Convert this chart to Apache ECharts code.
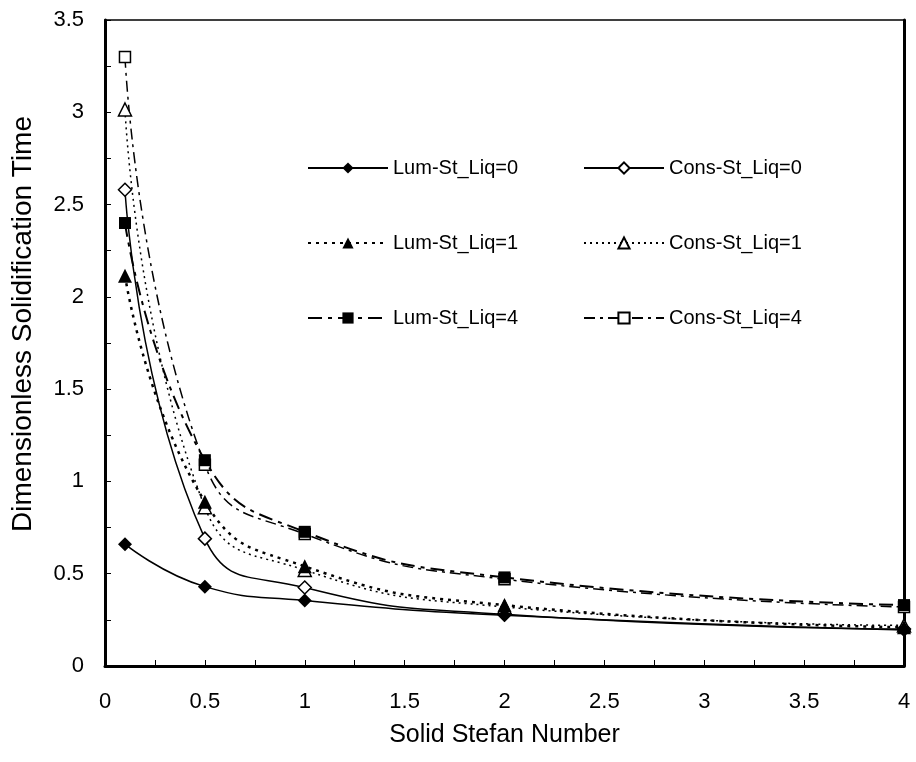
<!DOCTYPE html>
<html>
<head>
<meta charset="utf-8">
<script src="https://cdn.jsdelivr.net/npm/echarts@6/dist/echarts.min.js"></script>
<style>
html,body{margin:0;padding:0;background:#fff;}
#chart{width:916px;height:762px;}
</style>
</head>
<body>
<div id="chart"></div>
<script>
// Solid Stefan number values (x)
const stefan = [0.1, 0.5, 1, 2, 4];
// Dimensionless solidification time for each series
const lumLiq0 = [0.66, 0.43, 0.355, 0.275, 0.195];
const consLiq0 = [2.58, 0.69, 0.425, 0.28, 0.2];
const lumLiq1 = [2.115, 0.89, 0.54, 0.33, 0.21];
const consLiq1 = [3.015, 0.86, 0.52, 0.32, 0.22];
const lumLiq4 = [2.40, 1.115, 0.727, 0.48, 0.33];
const consLiq4 = [3.30, 1.09, 0.715, 0.47, 0.32];
const seriesNames = ['Lum-St_Liq=0', 'Cons-St_Liq=0', 'Lum-St_Liq=1', 'Cons-St_Liq=1', 'Lum-St_Liq=4', 'Cons-St_Liq=4'];
const xTitle = 'Solid Stefan Number';
const yTitle = 'Dimensionless Solidification Time';

const FONT = 'Liberation Sans, Arial, sans-serif';
const pts = arr => arr.map((v, i) => [stefan[i], v]);

function mk(name, data, symbol, size, filled, lineType, lineWidth) {
  return {
    name: name, type: 'line', data: pts(data), smooth: 0.5,
    symbol: symbol, symbolSize: size,
    itemStyle: filled ? {color: '#000', borderColor: '#000', borderWidth: 0}
                      : {color: '#fff', borderColor: '#000', borderWidth: 1.5},
    lineStyle: {color: '#000', width: lineWidth, type: lineType},
    emphasis: {disabled: true},
    z: filled ? 3 : 2
  };
}
const halfStep = v => (Math.abs(v * 2 - Math.round(v * 2)) < 1e-9 ? String(v) : '');

const chart = echarts.init(document.getElementById('chart'), null, {renderer: 'canvas'});
const legendCommon = {
  orient: 'vertical', itemWidth: 80, itemHeight: 14, itemGap: 55,
  textStyle: {fontFamily: FONT, fontSize: 20, color: '#000'},
  top: 153, selectedMode: false
};
chart.setOption({
  animation: false,
  backgroundColor: '#fff',
  grid: {left: 105, right: 12, top: 20, bottom: 96, show: true, borderColor: '#000', borderWidth: 1.5},
  legend: [
    Object.assign({}, legendCommon, {left: 302, data: [seriesNames[0], seriesNames[2], seriesNames[4]]}),
    Object.assign({}, legendCommon, {left: 578, data: [seriesNames[1], seriesNames[3], seriesNames[5]]})
  ],
  graphic: [{
    type: 'text', x: 23, y: 324, rotation: Math.PI / 2,
    style: {text: yTitle, fontFamily: FONT, fontSize: 28, fill: '#000', align: 'center', verticalAlign: 'middle'}
  }],
  xAxis: {
    type: 'value', min: 0, max: 4, interval: 0.25,
    name: xTitle, nameLocation: 'middle', nameGap: 57,
    nameTextStyle: {fontFamily: FONT, fontSize: 25, color: '#000'},
    axisLine: {show: true, onZero: false, lineStyle: {color: '#000', width: 3}},
    axisTick: {show: true, inside: true, length: 6, lineStyle: {color: '#000', width: 1}},
    axisLabel: {fontFamily: FONT, fontSize: 22, color: '#000', margin: 25, formatter: halfStep},
    splitLine: {show: false}
  },
  yAxis: [{
    type: 'value', min: 0, max: 3.5, interval: 0.25,
    axisLine: {show: true, onZero: false, lineStyle: {color: '#000', width: 3}},
    axisTick: {show: true, inside: true, length: 6, lineStyle: {color: '#000', width: 1}},
    axisLabel: {fontFamily: FONT, fontSize: 22, color: '#000', margin: 21, formatter: halfStep},
    splitLine: {show: false}
  }, {
    type: 'value', min: 0, max: 3.5, interval: 0.25, position: 'right',
    axisLine: {show: true, onZero: false, lineStyle: {color: '#000', width: 3}},
    axisTick: {show: false}, axisLabel: {show: false}, splitLine: {show: false}
  }],
  series: [
    mk(seriesNames[0], lumLiq0, 'diamond', 14, true, 'solid', 1.5),
    mk(seriesNames[1], consLiq0, 'diamond', 13, false, 'solid', 1.5),
    mk(seriesNames[2], lumLiq1, 'triangle', 14, true, [3, 5], 2.5),
    mk(seriesNames[3], consLiq1, 'triangle', 13, false, [2, 4], 1.5),
    mk(seriesNames[4], lumLiq4, 'rect', 12, true, [14, 6, 4, 6], 2),
    mk(seriesNames[5], consLiq4, 'rect', 11, false, [11, 5, 3, 5], 1.5)
  ]
});
</script>
</body>
</html>
